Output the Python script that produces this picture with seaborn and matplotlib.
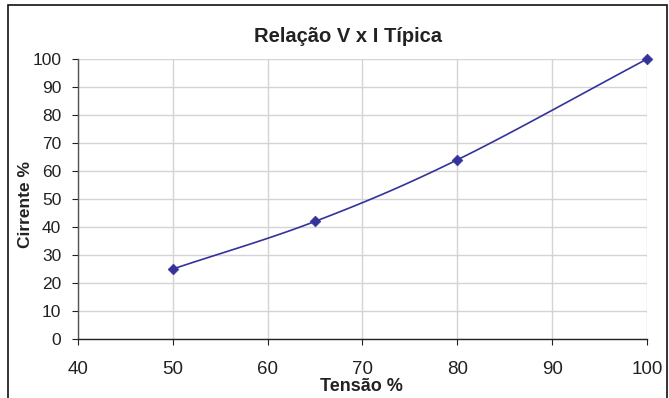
import numpy as np
import matplotlib
matplotlib.use("Agg")
import matplotlib.pyplot as plt
import seaborn as sns
import pandas as pd
from matplotlib.patches import Rectangle

tensao = [50, 65, 80, 100]
corrente = [25, 42, 64, 100]
x_ticks = [40, 50, 60, 70, 80, 90, 100]
y_ticks = [0, 10, 20, 30, 40, 50, 60, 70, 80, 90, 100]

sns.set_theme(style="white")
plt.rcParams['font.family'] = ['Liberation Sans', 'DejaVu Sans']

# Smoothed curve (Catmull-Rom through the data points, like Excel's smoothed line)
pts = np.column_stack([tensao, corrente]).astype(float)
P = np.vstack([pts[0] - (pts[1] - pts[0]), pts, pts[-1] + (pts[-1] - pts[-2])])
curve = []
for i in range(1, len(P) - 2):
    p0, p1, p2, p3 = P[i - 1], P[i], P[i + 1], P[i + 2]
    c1 = p1 + (p2 - p0) / 6
    c2 = p2 - (p3 - p1) / 6
    for t in np.linspace(0, 1, 40):
        b = ((1 - t) ** 3) * p1 + 3 * ((1 - t) ** 2) * t * c1 + 3 * (1 - t) * t ** 2 * c2 + t ** 3 * p2
        curve.append(b)
curve = np.array(curve)
smooth = pd.DataFrame({"x": curve[:, 0], "y": curve[:, 1]})
df = pd.DataFrame({"Tensão": tensao, "Corrente": corrente})

fig = plt.figure(figsize=(6.69, 3.98), dpi=100)
ax = fig.add_axes([78 / 669, 1 - 339 / 398, (647 - 78) / 669, (339 - 59) / 398])

color = "#333399"
sns.lineplot(data=smooth, x="x", y="y", ax=ax, color=color, lw=1.2, sort=False, estimator=None)
sns.scatterplot(data=df, x="Tensão", y="Corrente", ax=ax, color=color, marker="D", s=30,
                edgecolor=color, zorder=5, clip_on=False)

ax.set_xlim(40, 100)
ax.set_ylim(0, 100)
ax.set_xticks(x_ticks)
ax.set_yticks(y_ticks)
ax.tick_params(axis="both", colors="#222222", length=4, width=0.8,
               direction="out", bottom=True, left=True)
ax.tick_params(axis="x", labelsize=13.5, pad=12)
ax.tick_params(axis="y", labelsize=12.5, pad=8)
ax.grid(True, color="#d4d4d4", lw=1)
for s in ["top", "right"]:
    ax.spines[s].set_visible(False)
ax.spines["left"].set_color("#555555")
ax.spines["bottom"].set_color("#222222")
ax.spines["left"].set_linewidth(1)
ax.spines["bottom"].set_linewidth(1)
ax.set_xlabel("")
ax.set_ylabel("")

fig.text(347.5 / 669, 1 - 42 / 398, "Relação V x I Típica", ha="center", va="baseline",
         fontsize=14.5, fontweight="bold", color="#222222")
fig.text(361.5 / 669, 1 - 391 / 398, "Tensão %", ha="center", va="baseline",
         fontsize=13, fontweight="bold", color="#222222")
fig.text(26 / 669, 1 - 205 / 398, "Cirrente %", ha="center", va="center", rotation=90,
         fontsize=12.5, fontweight="bold", color="#222222")

fig.patches.append(Rectangle((8 / 669, -0.05), (667 - 8) / 669, 1 - 5 / 398 + 0.05,
                             transform=fig.transFigure, fill=False, edgecolor="#111111",
                             lw=1.2, figure=fig))

fig.savefig("out.png", dpi=100)
